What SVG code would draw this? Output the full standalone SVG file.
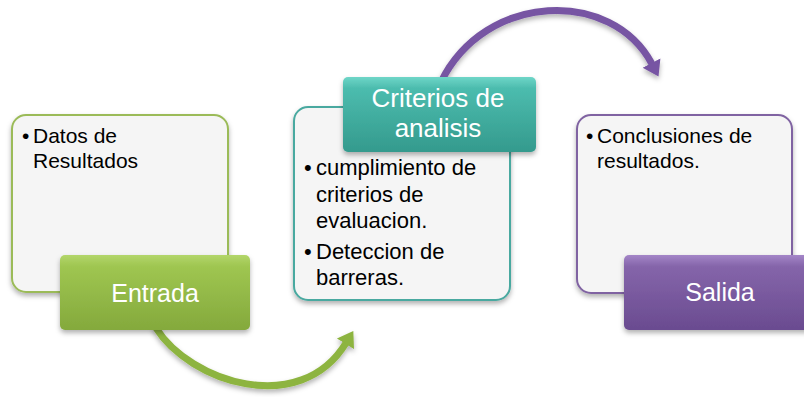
<svg xmlns="http://www.w3.org/2000/svg" width="804" height="397" viewBox="0 0 804 397">
<defs>
<style>
.panel{fill:#f5f5f5;stroke-width:2;filter:url(#sh)}
.txt{font-family:"Liberation Sans",Arial,sans-serif;font-size:21px;fill:#000}
.txt2{font-family:"Liberation Sans",Arial,sans-serif;font-size:22px;fill:#000}
.lbl{font-family:"Liberation Sans",Arial,sans-serif;font-size:25px;fill:#fff;text-anchor:middle}
.arrow{fill:none;stroke-width:7;stroke-linecap:round}
</style>
<filter id="sh" x="-10%" y="-10%" width="120%" height="130%">
<feDropShadow dx="0" dy="3" stdDeviation="2.5" flood-color="#000" flood-opacity="0.3"/>
</filter>
<linearGradient id="gGreen" x1="0" y1="0" x2="0" y2="1">
<stop offset="0" stop-color="#b3d66a"/>
<stop offset="0.15" stop-color="#9fc651"/>
<stop offset="1" stop-color="#84a93c"/>
</linearGradient>
<linearGradient id="gTeal" x1="0" y1="0" x2="0" y2="1">
<stop offset="0" stop-color="#6fd6c8"/>
<stop offset="0.15" stop-color="#4cbcae"/>
<stop offset="1" stop-color="#349a8d"/>
</linearGradient>
<linearGradient id="gPurple" x1="0" y1="0" x2="0" y2="1">
<stop offset="0" stop-color="#a486c8"/>
<stop offset="0.15" stop-color="#8565aa"/>
<stop offset="1" stop-color="#6a4b90"/>
</linearGradient>
<marker id="mGreen" viewBox="0 -11 16 22" markerUnits="userSpaceOnUse" markerWidth="16" markerHeight="22" refX="1" refY="0" orient="auto">
<path d="M0,-10 L15,0 L0,10 Z" fill="#8db43f"/>
</marker>
<marker id="mPurple" viewBox="0 -11 16 22" markerUnits="userSpaceOnUse" markerWidth="16" markerHeight="22" refX="1" refY="0" orient="auto">
<path d="M0,-10 L15,0 L0,10 Z" fill="#7755a3"/>
</marker>
</defs>

<g id="connectors">
<path class="arrow" d="M156,328 C190,382 300,418 346,343" stroke="#8db43f" marker-end="url(#mGreen)" filter="url(#sh)"/>
<path class="arrow" d="M441,82 C485,-8 612,-12 652,64" stroke="#7755a3" marker-end="url(#mPurple)" filter="url(#sh)"/>
</g>

<g id="panel-entrada">
<rect class="panel" x="12" y="115" width="216" height="177" rx="14" stroke="#9bbb59"/>
<text class="txt" x="22" y="143">•</text>
<text class="txt" x="33" y="143">Datos de</text>
<text class="txt" x="33" y="168">Resultados</text>
</g>
<g id="label-entrada">
<rect x="60" y="255" width="190" height="75" rx="5" fill="url(#gGreen)" filter="url(#sh)"/>
<text class="lbl" x="155" y="302">Entrada</text>
</g>

<g id="panel-criterios">
<rect class="panel" x="294" y="107" width="216" height="193" rx="14" stroke="#4aa9a0"/>
<text class="txt2" x="304" y="175">•</text>
<text class="txt2" x="316" y="175">cumplimiento de</text>
<text class="txt2" x="316" y="202">criterios de</text>
<text class="txt2" x="316" y="228">evaluacion.</text>
<text class="txt2" x="304" y="259">•</text>
<text class="txt2" x="316" y="259">Deteccion de</text>
<text class="txt2" x="316" y="285">barreras.</text>
</g>
<g id="label-criterios">
<rect x="343" y="77" width="193" height="75" rx="5" fill="url(#gTeal)" filter="url(#sh)"/>
<text class="lbl" x="438" y="107" style="font-size:26px">Criterios de</text>
<text class="lbl" x="438" y="137" style="font-size:26px">analisis</text>
</g>

<g id="panel-salida">
<rect class="panel" x="577" y="115" width="215" height="178" rx="14" stroke="#8064a2"/>
<text class="txt" x="586" y="143">•</text>
<text class="txt" x="597" y="143">Conclusiones de</text>
<text class="txt" x="597" y="168">resultados.</text>
</g>
<g id="label-salida">
<rect x="624" y="255" width="200" height="75" rx="5" fill="url(#gPurple)" filter="url(#sh)"/>
<text class="lbl" x="720" y="301">Salida</text>
</g>
</svg>
